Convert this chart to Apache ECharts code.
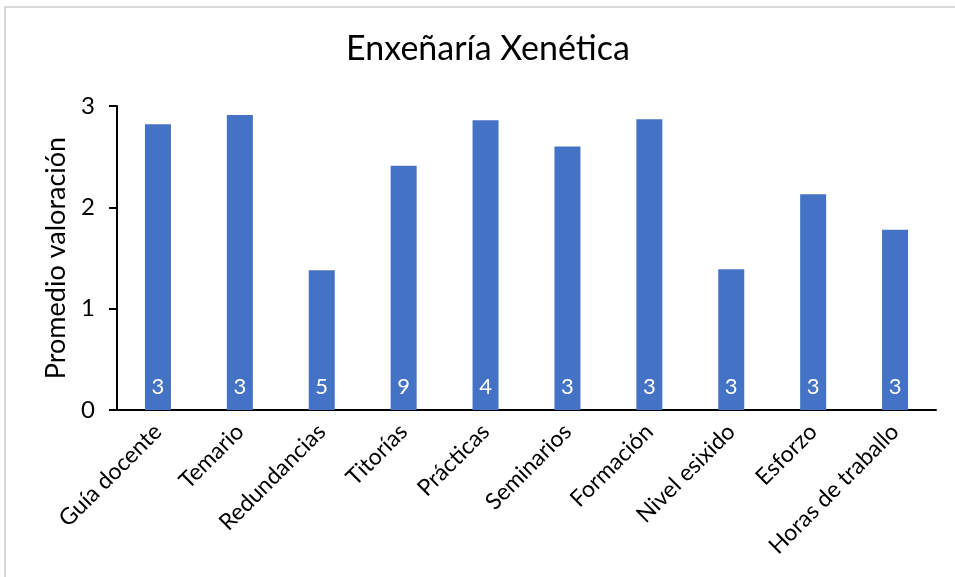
<!DOCTYPE html>
<html>
<head>
<meta charset="utf-8">
<script src="https://cdn.jsdelivr.net/npm/echarts@6/dist/echarts.min.js"></script>
<style>
html,body{margin:0;padding:0;background:#fff;}
#main{width:955px;height:577px;}
</style>
</head>
<body>
<div id="main"></div>
<script>
const chartTitle = 'Enxeñaría Xenética';
const yAxisTitle = 'Promedio valoración';
const categories = ['Guía docente','Temario','Redundancias','Titorías','Prácticas','Seminarios','Formación','Nivel esixido','Esforzo','Horas de traballo'];
const averages = [2.82, 2.91, 1.38, 2.41, 2.86, 2.60, 2.87, 1.39, 2.13, 1.78];
const counts = [3, 3, 5, 9, 4, 3, 3, 3, 3, 3];
const yTicks = [0, 1, 2, 3];

const FONT = 'Lato';
const chart = echarts.init(document.getElementById('main'), null, {renderer: 'canvas'});
chart.setOption({
  animation: false,
  backgroundColor: '#fff',
  textStyle: {fontFamily: FONT},
  graphic: [{
    type: 'rect', silent: true,
    shape: {x: 5, y: 7, width: 1000, height: 1000},
    style: {fill: 'none', stroke: '#d9d9d9', lineWidth: 2}
  }],
  title: {
    text: chartTitle,
    left: 483, top: 27,
    textAlign: 'center',
    textStyle: {fontFamily: FONT, fontSize: 34, fontWeight: 'normal', color: '#000'}
  },
  grid: {left: 117, right: 19, top: 106, bottom: 167, containLabel: false},
  xAxis: {
    type: 'category',
    data: categories,
    axisLine: {lineStyle: {color: '#000', width: 2}},
    axisTick: {show: false},
    axisLabel: {rotate: 45, fontSize: 23, color: '#000', fontFamily: FONT, margin: 18, interval: 0}
  },
  yAxis: {
    type: 'value',
    min: yTicks[0], max: yTicks[yTicks.length - 1], interval: 1,
    name: yAxisTitle,
    nameLocation: 'middle',
    nameGap: 45,
    nameTextStyle: {fontSize: 27, color: '#000', fontFamily: FONT},
    axisLine: {show: true, lineStyle: {color: '#000', width: 2}},
    axisTick: {show: true, length: 8, lineStyle: {color: '#000', width: 2}},
    splitLine: {show: false},
    axisLabel: {fontSize: 24, color: '#000', fontFamily: FONT, margin: 22}
  },
  series: [{
    type: 'bar',
    data: averages,
    barWidth: 26,
    itemStyle: {color: '#4472C4'},
    label: {
      show: true,
      position: 'insideBottom',
      distance: 12,
      color: '#fff',
      fontSize: 22,
      fontFamily: FONT,
      formatter: p => String(counts[p.dataIndex])
    }
  }]
});
</script>
</body>
</html>
